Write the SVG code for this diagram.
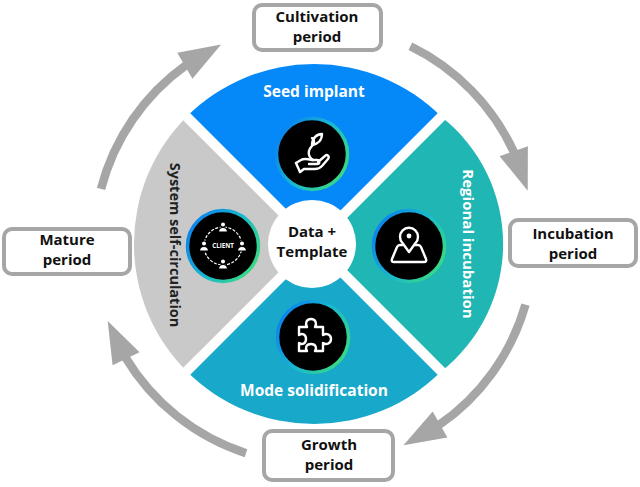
<svg xmlns="http://www.w3.org/2000/svg" width="640" height="487" viewBox="0 0 640 487">
<style>
  .lbl{font-family:"Open Sans","Noto Sans","Liberation Sans",sans-serif;font-weight:700;text-anchor:middle}
  .box{fill:#ffffff;stroke:#A6A6A6;stroke-width:4}
  .boxt{font-size:15px;fill:#111111}
  .seg{stroke:none}
  .arc{fill:none;stroke:#A6A6A6;stroke-width:8.5}
  .ring{fill:#000000;stroke:url(#rg);stroke-width:3.5}
  .ico{fill:none;stroke:#ffffff;stroke-width:2.4;stroke-linecap:round;stroke-linejoin:round}
  .wt{fill:#ffffff}
</style>
<defs>
  <linearGradient id="rg" x1="0" y1="0.2" x2="1" y2="0.8">
    <stop offset="0" stop-color="#0A7FF0"/>
    <stop offset="0.5" stop-color="#18B8D0"/>
    <stop offset="1" stop-color="#3DDC7A"/>
  </linearGradient>
  <marker id="ah" markerUnits="userSpaceOnUse" markerWidth="60" markerHeight="60" refX="0" refY="0" orient="auto" overflow="visible">
    <path d="M-2,-15 L40,0 L-2,15 Z" transform="rotate(5)" fill="#A6A6A6"/>
  </marker>
</defs>
<rect width="640" height="487" fill="#ffffff"/>

<g id="connectors">
  <path class="arc" d="M101,188.9 A220,220 0 0 1 186.6,64.7" marker-end="url(#ah)"/>
  <path class="arc" d="M410.4,46.3 A220,220 0 0 1 514.4,153.1" marker-end="url(#ah)"/>
  <path class="arc" d="M525.5,304.6 A220,220 0 0 1 438.3,425.5" marker-end="url(#ah)"/>
  <path class="arc" d="M246,453.2 A220,220 0 0 1 125.2,357" marker-end="url(#ah)"/>
</g>

<g id="seg-seed">
  <path class="seg" fill="#0588F8" d="M314,244 L186.7,116.7 A180,180 0 0 1 441.3,116.7 Z"/>
  <text class="lbl" x="314" y="97" font-size="15.5" fill="#ffffff">Seed implant</text>
</g>
<g id="seg-regional">
  <path class="seg" fill="#20B6B4" d="M314,244 L441.3,116.7 A162,162 0 0 1 441.3,371.3 Z"/>
  <text class="lbl" transform="translate(468,244) rotate(90)" x="0" y="5" font-size="15" fill="#ffffff">Regional incubation</text>
</g>
<g id="seg-mode">
  <path class="seg" fill="#18A8CA" d="M314,244 L441.3,371.3 A180,180 0 0 1 186.7,371.3 Z"/>
  <text class="lbl" x="314" y="396" font-size="15.5" fill="#ffffff">Mode solidification</text>
</g>
<g id="seg-system">
  <path class="seg" fill="#C9C9C9" d="M314,244 L186.7,371.3 A180,180 0 0 1 186.7,116.7 Z"/>
  <text class="lbl" transform="translate(175,245) rotate(90)" x="0" y="5" font-size="14.5" fill="#222222">System self-circulation</text>
</g>
<g id="gaps" stroke="#ffffff" stroke-width="10">
  <line x1="174" y1="104" x2="454" y2="384"/>
  <line x1="454" y1="104" x2="174" y2="384"/>
</g>

<g id="center">
  <circle cx="312" cy="244" r="44" fill="#ffffff"/>
  <text class="lbl" x="312" y="237" font-size="15" fill="#111111">Data +</text>
  <text class="lbl" x="312" y="257" font-size="15" fill="#111111">Template</text>
</g>

<g id="icon-seed" transform="translate(312,154)">
  <circle class="ring" r="35.5"/>
  <path class="ico" d="M1,6 C-5,2 -4,-4 0,-8 C3,-11 2,-14 0,-16"/>
  <path class="ico" d="M0,-9 C0,-16 5,-20 10,-20 C10,-14 6,-10 0,-9 Z"/>
  <path class="ico" d="M-16,9 L-11,6 C-8,4 -4,5 0,6 L5,6 C8,6 8,10 5,10 L-3,10"/>
  <path class="ico" d="M6,8 L13,2 C15,0 18,2 16,5 L10,12 C8,14 6,15 3,15 L-8,15 L-12,18"/>
  <path class="ico" d="M-16,9 L-12,18"/>
</g>

<g id="icon-map" transform="translate(409,246)">
  <circle class="ring" r="35.5"/>
  <path class="ico" d="M0,6 L-6.5,-3 A9,9 0 1 1 6.5,-3 Z"/>
  <circle cx="0" cy="-10" r="2.4" class="wt"/>
  <path class="ico" d="M-6,-1 L-9,-1 Q-11,-1 -12,1 L-17,13 Q-18,16 -15,16 L15,16 Q18,16 17,13 L12,1 Q11,-1 9,-1 L6,-1"/>
</g>

<g id="icon-puzzle" transform="translate(313,337)">
  <circle class="ring" r="35.5"/>
  <path class="ico" d="M-14,-10 L-6,-10 C-8,-13 -7,-18 -2,-18 C3,-18 4,-13 2,-10 L10,-10 L10,-2 C13,-4 18,-3 18,2 C18,7 13,8 10,6 L10,14 L2,14 C4,11 3,7 -2,7 C-7,7 -8,11 -6,14 L-14,14 L-14,6 C-11,8 -7,7 -7,2 C-7,-3 -11,-4 -14,-2 Z"/>
</g>

<g id="icon-client" transform="translate(223,246)">
  <circle class="ring" r="35.5"/>
  <circle r="19" fill="none" stroke="#ffffff" stroke-width="1.2" stroke-dasharray="3 1.5"/>
  <g fill="#ffffff" stroke="#000000" stroke-width="1.2">
    <g transform="translate(0,-19)"><circle cx="0" cy="-2.5" r="2.6"/><path d="M-4.5,5 Q-4.5,0.5 0,0.5 Q4.5,0.5 4.5,5 Z"/></g>
    <g transform="translate(0,18)"><circle cx="0" cy="-2.5" r="2.6"/><path d="M-4.5,5 Q-4.5,0.5 0,0.5 Q4.5,0.5 4.5,5 Z"/></g>
    <g transform="translate(-19,0)"><circle cx="0" cy="-2.5" r="2.6"/><path d="M-4.5,5 Q-4.5,0.5 0,0.5 Q4.5,0.5 4.5,5 Z"/></g>
    <g transform="translate(19,0)"><circle cx="0" cy="-2.5" r="2.6"/><path d="M-4.5,5 Q-4.5,0.5 0,0.5 Q4.5,0.5 4.5,5 Z"/></g>
  </g>
  <text class="lbl" x="0" y="2.2" font-size="6.2" fill="#ffffff">CLIENT</text>
</g>

<g id="box-cultivation">
  <rect class="box" x="254" y="5" width="127" height="45" rx="8"/>
  <text class="lbl boxt" x="317" y="22">Cultivation</text>
  <text class="lbl boxt" x="317" y="42">period</text>
</g>
<g id="box-incubation">
  <rect class="box" x="510" y="220" width="126" height="46" rx="8"/>
  <text class="lbl boxt" x="573" y="238.5">Incubation</text>
  <text class="lbl boxt" x="573" y="258.5">period</text>
</g>
<g id="box-mature">
  <rect class="box" x="4" y="229" width="126" height="45" rx="8"/>
  <text class="lbl boxt" x="67" y="245">Mature</text>
  <text class="lbl boxt" x="67" y="265">period</text>
</g>
<g id="box-growth">
  <rect class="box" x="264" y="431" width="129" height="49" rx="8"/>
  <text class="lbl boxt" x="329" y="450">Growth</text>
  <text class="lbl boxt" x="329" y="470">period</text>
</g>
</svg>
